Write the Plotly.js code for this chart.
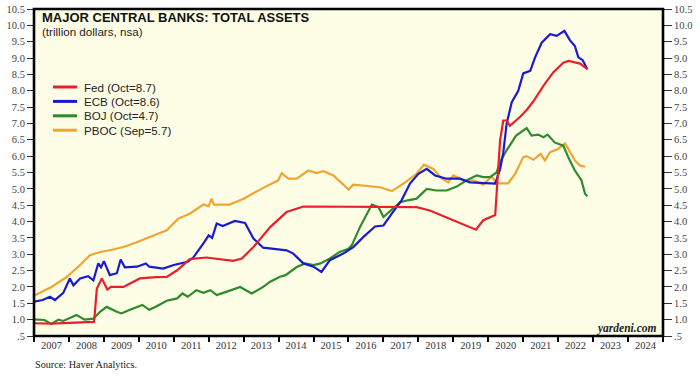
<!DOCTYPE html>
<html>
<head>
<meta charset="utf-8">
<script src="https://cdn.plot.ly/plotly-3.0.1.min.js"></script>
<style>
  html, body { margin: 0; padding: 0; background: #ffffff; }
  #chart { width: 700px; height: 379px; }
</style>
</head>
<body>
<div id="chart"></div>
<script>
// ---------------- DATA (decimal years, trillion dollars) ----------------
const seriesNames = ["Fed (Oct=8.7)", "ECB (Oct=8.6)", "BOJ (Oct=4.7)", "PBOC (Sep=5.7)"];
const seriesColors = ["#e8202a", "#1a1ad2", "#2e8a2a", "#f0a530"];

const fedT = [2007.0, 2007.5, 2008.0, 2008.5, 2008.72, 2008.8, 2008.94, 2009.1, 2009.2, 2009.56, 2010.03, 2010.5, 2010.8, 2011.1, 2011.46, 2011.94, 2012.2, 2012.7, 2012.95, 2013.28, 2013.76, 2014.23, 2014.71, 2015.2, 2016.14, 2017.1, 2017.95, 2018.33, 2019.0, 2019.65, 2019.86, 2020.0, 2020.14, 2020.2, 2020.34, 2020.43, 2020.53, 2020.62, 2020.9, 2021.1, 2021.29, 2021.58, 2021.86, 2022.15, 2022.3, 2022.63, 2022.84];
const fedV = [0.89, 0.88, 0.90, 0.92, 0.93, 1.95, 2.26, 1.92, 2.0, 2.0, 2.26, 2.30, 2.31, 2.51, 2.85, 2.90, 2.87, 2.80, 2.87, 3.22, 3.83, 4.29, 4.46, 4.46, 4.46, 4.46, 4.44, 4.34, 4.04, 3.75, 4.04, 4.10, 4.16, 4.20, 6.48, 7.09, 7.09, 6.93, 7.19, 7.41, 7.67, 8.15, 8.56, 8.86, 8.91, 8.83, 8.66];

const ecbT = [2007.0, 2007.25, 2007.46, 2007.6, 2007.84, 2008.03, 2008.13, 2008.32, 2008.55, 2008.7, 2008.84, 2008.92, 2009.0, 2009.17, 2009.37, 2009.48, 2009.6, 2009.95, 2010.2, 2010.3, 2010.7, 2011.0, 2011.4, 2011.56, 2011.85, 2012.0, 2012.1, 2012.23, 2012.4, 2012.6, 2012.75, 2013.04, 2013.28, 2013.56, 2013.95, 2014.23, 2014.42, 2014.71, 2015.0, 2015.23, 2015.47, 2015.85, 2016.14, 2016.43, 2016.76, 2017.0, 2017.24, 2017.52, 2017.76, 2018.0, 2018.24, 2018.48, 2018.81, 2019.19, 2019.48, 2019.86, 2020.2, 2020.34, 2020.43, 2020.53, 2020.67, 2020.86, 2021.0, 2021.2, 2021.34, 2021.53, 2021.77, 2021.96, 2022.18, 2022.34, 2022.48, 2022.58, 2022.7, 2022.84];
const ecbV = [1.55, 1.60, 1.70, 1.60, 1.82, 2.26, 2.05, 2.26, 2.33, 2.20, 2.72, 2.60, 2.79, 2.36, 2.42, 2.84, 2.60, 2.62, 2.72, 2.62, 2.56, 2.67, 2.77, 2.90, 3.33, 3.58, 3.50, 3.94, 3.86, 3.94, 4.02, 3.96, 3.48, 3.20, 3.14, 3.12, 3.02, 2.72, 2.62, 2.46, 2.82, 3.02, 3.22, 3.53, 3.85, 3.88, 4.24, 4.65, 5.16, 5.46, 5.61, 5.41, 5.31, 5.31, 5.20, 5.17, 5.16, 5.60, 6.10, 7.00, 7.64, 8.00, 8.53, 8.61, 9.02, 9.47, 9.73, 9.68, 9.83, 9.54, 9.37, 9.02, 8.94, 8.66];

const bojT = [2007.0, 2007.3, 2007.5, 2007.7, 2007.84, 2008.22, 2008.45, 2008.7, 2008.89, 2009.08, 2009.37, 2009.5, 2009.75, 2010.1, 2010.3, 2010.5, 2010.8, 2011.1, 2011.25, 2011.4, 2011.65, 2011.85, 2012.05, 2012.23, 2012.5, 2012.9, 2013.23, 2013.56, 2013.76, 2014.04, 2014.2, 2014.52, 2014.76, 2015.0, 2015.2, 2015.47, 2015.75, 2016.0, 2016.1, 2016.33, 2016.67, 2016.86, 2017.0, 2017.2, 2017.48, 2017.7, 2017.95, 2018.24, 2018.52, 2018.81, 2019.1, 2019.38, 2019.67, 2019.86, 2020.05, 2020.24, 2020.34, 2020.52, 2020.71, 2020.8, 2021.1, 2021.24, 2021.43, 2021.58, 2021.7, 2021.9, 2022.15, 2022.29, 2022.48, 2022.67, 2022.77, 2022.84];
const bojV = [1.01, 0.99, 0.87, 1.00, 0.96, 1.14, 1.00, 1.03, 1.24, 1.39, 1.24, 1.19, 1.30, 1.45, 1.30, 1.40, 1.58, 1.65, 1.80, 1.70, 1.90, 1.82, 1.90, 1.75, 1.85, 2.00, 1.80, 2.00, 2.16, 2.31, 2.36, 2.61, 2.72, 2.67, 2.72, 2.87, 3.07, 3.17, 3.28, 3.83, 4.52, 4.44, 4.14, 4.34, 4.59, 4.65, 4.70, 5.00, 4.95, 4.95, 5.07, 5.26, 5.41, 5.36, 5.36, 5.50, 5.82, 6.17, 6.48, 6.63, 6.86, 6.63, 6.66, 6.58, 6.66, 6.42, 6.32, 5.97, 5.56, 5.26, 4.85, 4.77];

const pbocT = [2007.0, 2007.5, 2007.94, 2008.3, 2008.6, 2008.89, 2009.2, 2009.56, 2009.9, 2010.2, 2010.5, 2010.8, 2011.13, 2011.46, 2011.85, 2012.0, 2012.08, 2012.15, 2012.6, 2013.0, 2013.56, 2013.99, 2014.09, 2014.28, 2014.52, 2014.85, 2015.09, 2015.28, 2015.57, 2015.81, 2016.0, 2016.14, 2016.43, 2016.9, 2017.24, 2017.57, 2017.95, 2018.16, 2018.43, 2018.67, 2018.86, 2019.0, 2019.29, 2019.57, 2019.86, 2020.1, 2020.24, 2020.57, 2020.77, 2021.0, 2021.1, 2021.29, 2021.5, 2021.62, 2021.77, 2022.0, 2022.2, 2022.34, 2022.48, 2022.63, 2022.77];
const pbocV = [1.73, 2.00, 2.31, 2.65, 2.97, 3.07, 3.13, 3.22, 3.35, 3.48, 3.60, 3.73, 4.09, 4.24, 4.52, 4.47, 4.70, 4.52, 4.52, 4.70, 5.03, 5.26, 5.48, 5.31, 5.31, 5.56, 5.48, 5.54, 5.41, 5.16, 4.98, 5.13, 5.10, 5.05, 4.93, 5.16, 5.46, 5.74, 5.61, 5.31, 5.20, 5.41, 5.26, 5.26, 5.13, 5.38, 5.17, 5.17, 5.46, 5.97, 6.00, 5.89, 6.07, 5.87, 6.12, 6.22, 6.39, 6.12, 5.87, 5.71, 5.68];

const yTickVals = [0.5, 1.0, 1.5, 2.0, 2.5, 3.0, 3.5, 4.0, 4.5, 5.0, 5.5, 6.0, 6.5, 7.0, 7.5, 8.0, 8.5, 9.0, 9.5, 10.0, 10.5];
const yTickText = [".5", "1.0", "1.5", "2.0", "2.5", "3.0", "3.5", "4.0", "4.5", "5.0", "5.5", "6.0", "6.5", "7.0", "7.5", "8.0", "8.5", "9.0", "9.5", "10.0", "10.5"];

const titleText = "MAJOR CENTRAL BANKS: TOTAL ASSETS";
const subtitleText = "(trillion dollars, nsa)";
const sourceText = "Source: Haver Analytics.";
const brandText = "yardeni.com";

// ---------------- helpers ----------------
function toDate(y) {
  const yr = Math.floor(y);
  const s = Date.UTC(yr, 0, 1), e = Date.UTC(yr + 1, 0, 1);
  return new Date(s + (y - yr) * (e - s)).toISOString().slice(0, 10);
}

const W = 700, H = 379;
const M = { l: 34, r: 37, t: 9, b: 43 };
const PW = W - M.l - M.r, PH = H - M.t - M.b;
const px = x => (x - M.l) / PW;           // pixel x -> paper
const py = y => (H - M.b - y) / PH;       // pixel y -> paper

const serif = "Liberation Serif, Times New Roman, serif";
const sans = "Liberation Sans, Arial, sans-serif";

const allT = [fedT, ecbT, bojT, pbocT];
const allV = [fedV, ecbV, bojV, pbocV];
const drawOrder = [3, 2, 1, 0];

const traces = drawOrder.map(i => ({
  x: allT[i].map(toDate),
  y: allV[i],
  type: "scatter",
  mode: "lines",
  name: seriesNames[i],
  line: { color: seriesColors[i], width: 2.2 },
  showlegend: false,
  hoverinfo: "skip"
}));
traces.push({ x: [], y: [], yaxis: "y2", type: "scatter", mode: "lines", showlegend: false, hoverinfo: "skip" });

// custom legend (tight spacing like reference)
const shapes = [];
const annotations = [];
seriesNames.forEach((n, i) => {
  const yy = 87 + i * 14.4;
  shapes.push({ type: "line", xref: "paper", yref: "paper", x0: px(53), x1: px(77), y0: py(yy), y1: py(yy),
                line: { color: seriesColors[i], width: 3 } });
  annotations.push({ xref: "paper", yref: "paper", x: px(82), y: py(yy), xanchor: "left", yanchor: "middle",
                     text: n, showarrow: false, font: { family: sans, size: 11.6, color: "#222" } });
});

annotations.push({ xref: "paper", yref: "paper", x: px(40), y: py(17.5), xanchor: "left", yanchor: "middle",
  text: "<b>" + titleText + "</b>", showarrow: false, font: { family: sans, size: 13, color: "#111" } });
annotations.push({ xref: "paper", yref: "paper", x: px(40), y: py(32), xanchor: "left", yanchor: "middle",
  text: subtitleText, showarrow: false, font: { family: sans, size: 11.6, color: "#222" } });
annotations.push({ xref: "paper", yref: "paper", x: px(659), y: py(328), xanchor: "right", yanchor: "middle",
  text: "<b><i>" + brandText + "</i></b>", showarrow: false, font: { family: serif, size: 11.5, color: "#222" } });
annotations.push({ xref: "paper", yref: "paper", x: px(33), y: py(364), xanchor: "left", yanchor: "middle",
  text: sourceText, showarrow: false, font: { family: serif, size: 10.2, color: "#222" } });

// plot frame
shapes.push({ type: "rect", xref: "paper", yref: "paper", x0: 0, x1: 1, y0: 0, y1: 1,
              line: { color: "#000", width: 2.6 }, layer: "above" });

const yAxisCommon = {
  range: [0.5, 10.5],
  tickmode: "array",
  tickvals: yTickVals,
  ticktext: yTickText,
  ticks: "outside",
  ticklen: 6,
  tickwidth: 1,
  tickcolor: "#333",
  showgrid: false,
  zeroline: false,
  showline: false,
  fixedrange: true,
  tickfont: { family: serif, size: 10.5, color: "#444" }
};

const layout = {
  width: W, height: H,
  margin: M,
  paper_bgcolor: "#ffffff",
  plot_bgcolor: "#fefee6",
  showlegend: false,
  xaxis: {
    type: "date",
    range: ["2007-01-01", "2025-01-01"],
    tick0: "2007-01-01",
    dtick: "M12",
    tickformat: "%Y",
    ticklabelmode: "period",
    ticks: "outside",
    ticklen: 5,
    tickwidth: 2,
    tickcolor: "#000",
    ticklabelstandoff: -6,
    showgrid: false,
    zeroline: false,
    showline: false,
    fixedrange: true,
    tickfont: { family: serif, size: 10.5, color: "#333" }
  },
  yaxis: Object.assign({}, yAxisCommon, { side: "left" }),
  yaxis2: Object.assign({}, yAxisCommon, { side: "right", overlaying: "y", ticklen: 8 }),
  shapes: shapes,
  annotations: annotations
};

Plotly.newPlot("chart", traces, layout, { staticPlot: true, displayModeBar: false });
</script>
</body>
</html>
